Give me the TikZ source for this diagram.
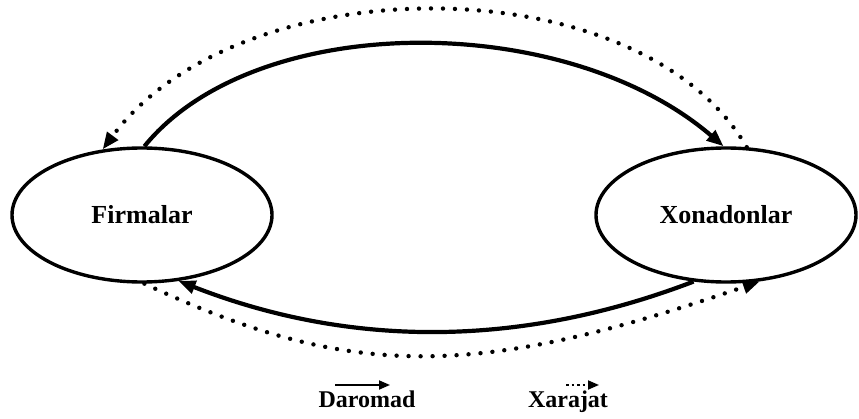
\documentclass[tikz,border=0pt]{standalone}
\usepackage{fontspec}
\setmainfont{Liberation Serif}
\usetikzlibrary{arrows.meta,shapes.geometric}

\begin{document}
\begin{tikzpicture}[
    x=1pt,
    y=1pt,
    line join=round,
    font=\bfseries
]

\tikzset{
    sector/.style={
        ellipse,
        draw=black,
        line width=3.4pt,
        minimum width=260pt,
        minimum height=134pt,
        inner sep=0pt,
        font=\bfseries\fontsize{26}{28}\selectfont
    },
    income flow/.style={
        draw=black,
        line width=4.2pt,
        -{Triangle[length=17pt,width=13pt]}
    },
    spending flow/.style={
        draw=black,
        line width=4.4pt,
        line cap=round,
        dash pattern=on 0pt off 12pt,
        -{Triangle[length=17pt,width=13pt]}
    },
    legend label/.style={
        anchor=base,
        font=\bfseries\fontsize{24}{26}\selectfont
    }
}

\useasboundingbox (0,0) rectangle (859,418);

\node[sector] (firms) at (142,203) {Firmalar};
\node[sector] (households) at (726,203) {Xonadonlar};

\draw[income flow] (firms.88) .. controls (255,408) and (565,408) .. (households.92);
\draw[spending flow] (households.73) .. controls (640,454) and (240,454) .. (firms.121);
\draw[income flow] (households.244) .. controls (520,70) and (350,70) .. (firms.299);
\draw[spending flow] (firms.272) .. controls (350,38) and (474,38) .. (households.297);

\node[legend label] (incomelabel) at (367,11) {Daromad};
\node[legend label] (spendinglabel) at (568,11) {Xarajat};

\coordinate (income start) at (335,33);
\coordinate (income end) at (390,33);
\coordinate (spending start) at (566,33);
\coordinate (spending end) at (599,33);

\draw[draw=black, line width=1.8pt, -{Triangle[length=11pt,width=9pt]}] (income start) -- (income end);
\draw[draw=black, line width=1.8pt, dash pattern=on 2.5pt off 3pt, -{Triangle[length=11pt,width=9pt]}] (spending start) -- (spending end);

\end{tikzpicture}
\end{document}
